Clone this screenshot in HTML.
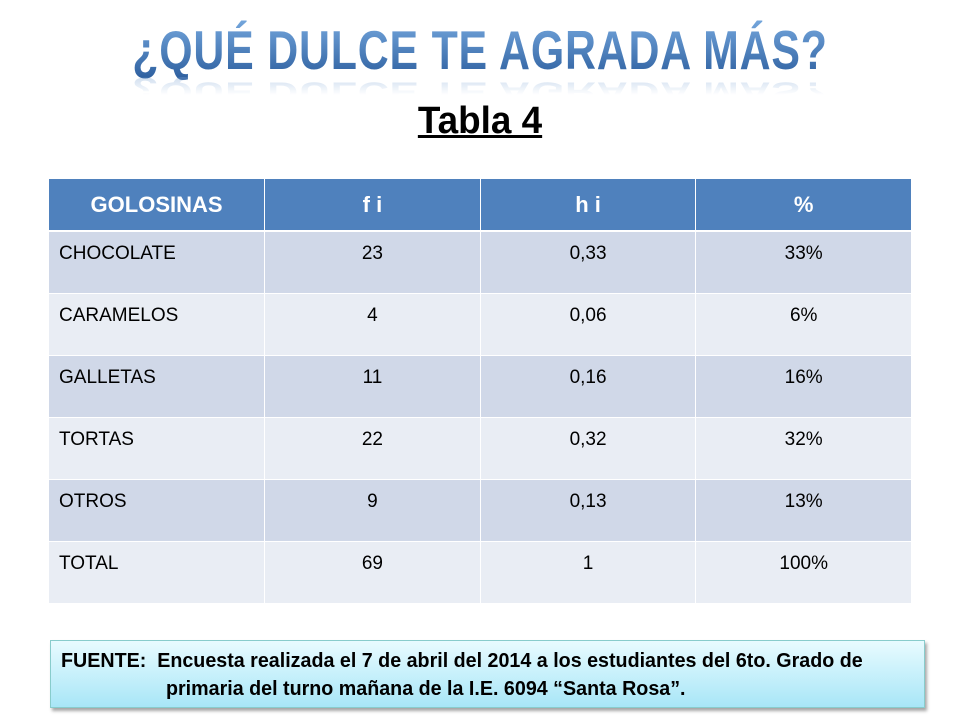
<!DOCTYPE html>
<html><head><meta charset="utf-8"><style>
body{margin:0;width:960px;height:720px;background:#fff;font-family:"Liberation Sans",sans-serif;position:relative;overflow:hidden}
.title{position:absolute;left:0;width:960px;top:20px;text-align:center;font-weight:bold;font-size:55px;letter-spacing:1px;background:linear-gradient(#74a6dc,#2c5e9e);-webkit-background-clip:text;background-clip:text;-webkit-text-fill-color:transparent;transform:scaleX(0.78);line-height:60px}
.refl{position:absolute;left:0;width:960px;top:62px;text-align:center;font-weight:bold;font-size:55px;letter-spacing:1px;line-height:60px;color:#7aa2d2;opacity:.35;transform:scaleX(0.78) scaleY(-0.5);-webkit-mask-image:linear-gradient(to top,#000,transparent 60%)}
.sub{position:absolute;left:0;width:960px;top:100px;text-align:center;font-weight:bold;font-size:38px;text-decoration:underline;text-decoration-thickness:3px;transform:scaleX(0.97)}
table{position:absolute;left:49px;top:179px;width:863px;border-collapse:collapse;table-layout:fixed}
td,th{border-right:1px solid #fff;height:62px;padding:0;font-size:19px;box-sizing:border-box}
th{background:#4f81bd;color:#fff;height:52px;font-size:22px;border-bottom:2px solid #fff}
td{text-align:center;color:#000;border-bottom:1px solid #fff;vertical-align:top;padding-top:11px}
td:first-child{text-align:left;padding-left:10px}
tr.o td{background:#d0d8e8} tr.e td{background:#e9edf4}
.foot{position:absolute;left:50px;top:640px;width:875px;height:68px;box-sizing:border-box;border:1px solid #8cc;background:linear-gradient(#e8fbff,#a8e6f7);box-shadow:2px 3px 3px rgba(0,0,0,.35);font-weight:bold;font-size:20.5px;line-height:28px;padding:6px 0 0 10px;white-space:nowrap}
.foot span{display:inline-block;transform:scaleX(0.96);transform-origin:left}
</style></head><body>
<div class="title">¿QUÉ DULCE TE AGRADA MÁS?</div>
<div class="refl">¿QUÉ DULCE TE AGRADA MÁS?</div>
<div class="sub">Tabla 4</div>
<table>
<tr><th>GOLOSINAS</th><th>f i</th><th>h i</th><th>%</th></tr>
<tr class="o"><td>CHOCOLATE</td><td>23</td><td>0,33</td><td>33%</td></tr>
<tr class="e"><td>CARAMELOS</td><td>4</td><td>0,06</td><td>6%</td></tr>
<tr class="o"><td>GALLETAS</td><td>11</td><td>0,16</td><td>16%</td></tr>
<tr class="e"><td>TORTAS</td><td>22</td><td>0,32</td><td>32%</td></tr>
<tr class="o"><td>OTROS</td><td>9</td><td>0,13</td><td>13%</td></tr>
<tr class="e"><td>TOTAL</td><td>69</td><td>1</td><td>100%</td></tr>
</table>
<div class="foot"><span>FUENTE:&nbsp; Encuesta realizada el 7 de abril del 2014 a los estudiantes del 6to. Grado de</span><br><span style="margin-left:105px">primaria del turno mañana de la I.E. 6094 “Santa Rosa”.</span></div>
</body></html>
